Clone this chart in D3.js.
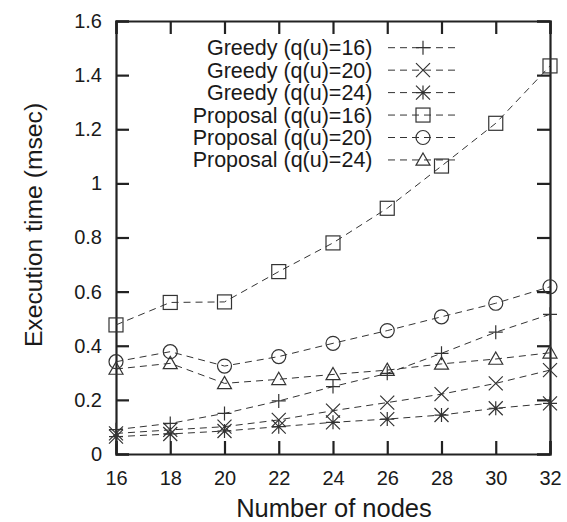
<!DOCTYPE html>
<html>
<head>
<meta charset="utf-8">
<script src="https://cdn.jsdelivr.net/npm/d3@7"></script>
<style>
  body { margin: 0; background: #fff; }
  svg text { font-family: "Liberation Sans", Arial, sans-serif; fill: #1a1a1a; }
</style>
</head>
<body>
<svg width="567" height="522"></svg>
<script>
// **** data ****
var nodes = [16, 18, 20, 22, 24, 26, 28, 30, 32];
var yTicks = [0, 0.2, 0.4, 0.6, 0.8, 1, 1.2, 1.4, 1.6];

var greedy16 = [0.090, 0.113, 0.150, 0.196, 0.249, 0.298, 0.372, 0.450, 0.516];
var greedy20 = [0.076, 0.089, 0.101, 0.126, 0.160, 0.190, 0.221, 0.261, 0.310];
var greedy24 = [0.064, 0.074, 0.085, 0.101, 0.117, 0.129, 0.144, 0.169, 0.187];
var proposal16 = [0.477, 0.560, 0.562, 0.674, 0.780, 0.908, 1.064, 1.222, 1.434];
var proposal20 = [0.341, 0.378, 0.325, 0.360, 0.409, 0.456, 0.507, 0.557, 0.618];
var proposal24 = [0.314, 0.335, 0.261, 0.276, 0.294, 0.310, 0.333, 0.351, 0.374];

var seriesNames = ['Greedy (q(u)=16)', 'Greedy (q(u)=20)', 'Greedy (q(u)=24)',
                   'Proposal (q(u)=16)', 'Proposal (q(u)=20)', 'Proposal (q(u)=24)'];
var seriesValues = [greedy16, greedy20, greedy24, proposal16, proposal20, proposal24];
var seriesMarks = ['plus', 'cross', 'star', 'square', 'circle', 'triangle'];

// **** scales ****
var plotLeft = 116, plotRight = 550, plotTop = 21, plotBottom = 454;
var xScale = d3.scaleLinear().domain([16, 32]).range([plotLeft, plotRight]);
var yScale = d3.scaleLinear().domain([0, 1.6]).range([plotBottom, plotTop]);

var svg = d3.select('svg');
var ink = '#222';

// **** marker shapes ****
function drawMark(g, type, x, y) {
    var s = 7;
    var m = g.append('g').attr('transform', 'translate(' + x + ',' + y + ')')
        .attr('fill', 'none').attr('stroke', '#333').attr('stroke-width', 1.2);
    if (type === 'plus') {
        m.append('path').attr('d', 'M' + -s + ',0H' + s + 'M0,' + -s + 'V' + s);
    } else if (type === 'cross') {
        m.append('path').attr('d', 'M' + -s + ',' + -s + 'L' + s + ',' + s + 'M' + -s + ',' + s + 'L' + s + ',' + -s);
    } else if (type === 'star') {
        m.append('path').attr('d', 'M' + -s + ',0H' + s + 'M0,' + -s + 'V' + s +
            'M' + -s + ',' + -s + 'L' + s + ',' + s + 'M' + -s + ',' + s + 'L' + s + ',' + -s);
    } else if (type === 'square') {
        m.append('rect').attr('x', -s).attr('y', -s).attr('width', 2 * s).attr('height', 2 * s);
    } else if (type === 'circle') {
        m.append('circle').attr('r', s);
    } else if (type === 'triangle') {
        m.append('path').attr('d', 'M0,' + (-s) + 'L' + s + ',' + (s * 0.75) + 'L' + -s + ',' + (s * 0.75) + 'Z');
    }
}

// **** axes frame and ticks ****
var frame = svg.append('g');
frame.append('g').attr('transform', 'translate(0,' + plotBottom + ')')
    .call(d3.axisBottom(xScale).tickValues(nodes).tickSize(-13).tickPadding(17).tickFormat(d3.format('d')));
frame.append('g').attr('transform', 'translate(0,' + plotTop + ')')
    .call(d3.axisTop(xScale).tickValues(nodes).tickSize(-13).tickFormat(''));
frame.append('g').attr('transform', 'translate(' + plotLeft + ',0)')
    .call(d3.axisLeft(yScale).tickValues(yTicks).tickSize(-13).tickPadding(14).tickFormat(d3.format('')));
frame.append('g').attr('transform', 'translate(' + plotRight + ',0)')
    .call(d3.axisRight(yScale).tickValues(yTicks).tickSize(-13).tickFormat(''));
frame.selectAll('.domain').attr('stroke', ink).attr('stroke-width', 2.2);
frame.selectAll('.tick line').attr('stroke', ink).attr('stroke-width', 2.2);
frame.selectAll('.tick text').attr('font-size', 20).attr('fill', '#1a1a1a')
    .style('font-family', '"Liberation Sans", Arial, sans-serif');

// **** series ****
var line = d3.line().x(function (d, i) { return xScale(nodes[i]); }).y(function (d) { return yScale(d); });
seriesValues.forEach(function (vals, k) {
    svg.append('path').datum(vals).attr('d', line)
        .attr('fill', 'none').attr('stroke', '#333').attr('stroke-width', 1)
        .attr('stroke-dasharray', '7,5');
    var g = svg.append('g');
    vals.forEach(function (v, i) { drawMark(g, seriesMarks[k], xScale(nodes[i]), yScale(v)); });
});

// **** legend ****
var legend = svg.append('g');
seriesNames.forEach(function (name, k) {
    var y = 47.7 + k * 22.45;
    legend.append('text').attr('x', 372.5).attr('y', y + 7.5).attr('text-anchor', 'end')
        .attr('font-size', 21.5).text(name);
    legend.append('line').attr('x1', 388).attr('x2', 457).attr('y1', y).attr('y2', y)
        .attr('stroke', '#333').attr('stroke-width', 1).attr('stroke-dasharray', '7,5');
    drawMark(legend, seriesMarks[k], 423, y);
});

// **** axis titles ****
svg.append('text').attr('x', 334).attr('y', 517).attr('text-anchor', 'middle')
    .attr('font-size', 25.5).text('Number of nodes');
svg.append('text').attr('transform', 'translate(42,225) rotate(-90)').attr('text-anchor', 'middle')
    .attr('font-size', 24.7).text('Execution time (msec)');
</script>
</body>
</html>
